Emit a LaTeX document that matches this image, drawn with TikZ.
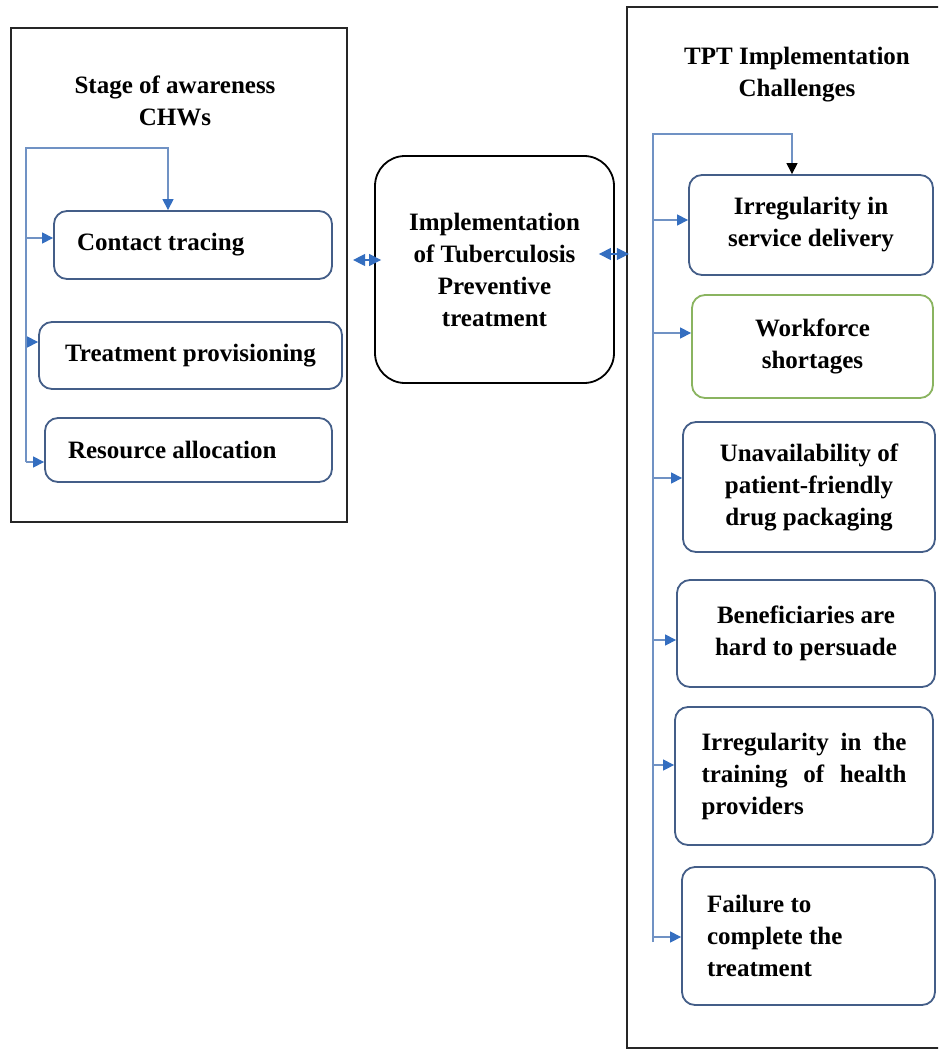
\documentclass[tikz,border=0pt]{standalone}
\usepackage{fontspec}
\setmainfont{Liberation Serif}
\usepackage{tikz}
\usetikzlibrary{positioning, arrows.meta, calc}
\usepackage{xcolor}
\definecolor{boxblue}{RGB}{68, 94, 136}
\definecolor{linkblue}{RGB}{112, 146, 196}
\definecolor{tipblue}{RGB}{52, 110, 192}
\definecolor{boxgreen}{RGB}{138, 180, 96}

\begin{document}
\begin{tikzpicture}[x=1pt, y=-1pt,
    font=\fontsize{25}{32}\selectfont\bfseries,
    outer/.style={draw=black!85, line width=2.2pt, inner sep=0pt},
    item/.style={draw=boxblue, line width=1.8pt, rounded corners=13pt,
                 inner sep=0pt, align=center},
    arr/.style={draw=linkblue, line width=1.2pt,
                -{Triangle[length=11pt, width=11pt, color=tipblue]}},
    dbl/.style={draw=tipblue, line width=1.2pt,
                {Triangle[length=12pt, width=12pt]}-{Triangle[length=12pt, width=12pt]}}]
  \clip (0,0) rectangle (938,1051);
  \fill[white] (0,0) rectangle (938,1051);

  \node[outer, minimum width=336pt, minimum height=494pt] (lbox) at (179,275) {};
  \node[outer, minimum width=318pt, minimum height=1041pt] (rbox) at (786,527.5) {};
  \node[align=center] (lttl) at (175,101) {Stage of awareness\\CHWs};
  \node[align=center] (rttl) at (797,75) {TPT Implementation\\Challenges};

  \node[item, minimum width=278pt, minimum height=68pt, text width=232pt, align=flush left]
        (ct) at (193,245) {Contact tracing};
  \node[item, minimum width=303pt, minimum height=67pt] (tp) at (190.5,355.5) {Treatment provisioning};
  \node[item, minimum width=287pt, minimum height=64pt, text width=241pt, align=flush left]
        (ra) at (188.5,450) {Resource allocation};

  \node[item, draw=black, rounded corners=30pt, minimum width=239pt, minimum height=227pt]
        (mid) at (494.5,269.5) {Implementation\\of Tuberculosis\\Preventive\\treatment};

  \node[item, minimum width=244pt, minimum height=100pt] (ird) at (811,225)
        {Irregularity in\\service delivery};
  \node[item, draw=boxgreen, minimum width=241pt, minimum height=103pt] (wf) at (812.5,346.5)
        {Workforce\\shortages};
  \node[item, minimum width=252pt, minimum height=130pt] (un) at (809,487)
        {Unavailability of\\patient-friendly\\drug packaging};
  \node[item, minimum width=258pt, minimum height=107pt] (ben) at (806,633.5)
        {Beneficiaries are\\hard to persuade};
  \node[item, minimum width=258pt, minimum height=138pt, text width=205pt, align=justify]
        (itr) at (804,776) {Irregularity in the training of health providers};
  \node[item, minimum width=253pt, minimum height=138pt, text width=203pt, align=flush left]
        (fail) at (808.5,936) {Failure to\\complete the\\treatment};

  \coordinate (ltop) at (26,148);
  \coordinate (lbot) at (26,462);
  \draw[arr] (lbot) -- (ltop) -| ([xshift=-25pt]ct.north);
  \foreach \n/\y in {ct/238, tp/342, ra/462} {
    \coordinate (s-\n) at (26,\y);
    \draw[arr] (s-\n) -- (s-\n -| \n.west);
  }

  \coordinate (rtop) at (653,134);
  \coordinate (rbot) at (653,942);
  \draw[draw=linkblue, line width=1.2pt, -{Triangle[length=11pt, width=11pt, color=black]}]
        (rbot) -- (rtop) -| ([xshift=-19pt]ird.north);
  \foreach \n/\y in {ird/220, wf/333, un/478, ben/640, itr/765, fail/937} {
    \coordinate (s-\n) at (653,\y);
    \draw[arr] (s-\n) -- (s-\n -| \n.west);
  }

  \coordinate (lnk) at (0,260);
  \coordinate (rnk) at (0,254);
  \draw[dbl] ([xshift=5pt]lbox.east |- lnk) -- ([xshift=7pt]mid.west |- lnk);
  \draw[dbl] ([xshift=-16pt]mid.east |- rnk) -- ([xshift=3pt]rbox.west |- rnk);
\end{tikzpicture}
\end{document}
